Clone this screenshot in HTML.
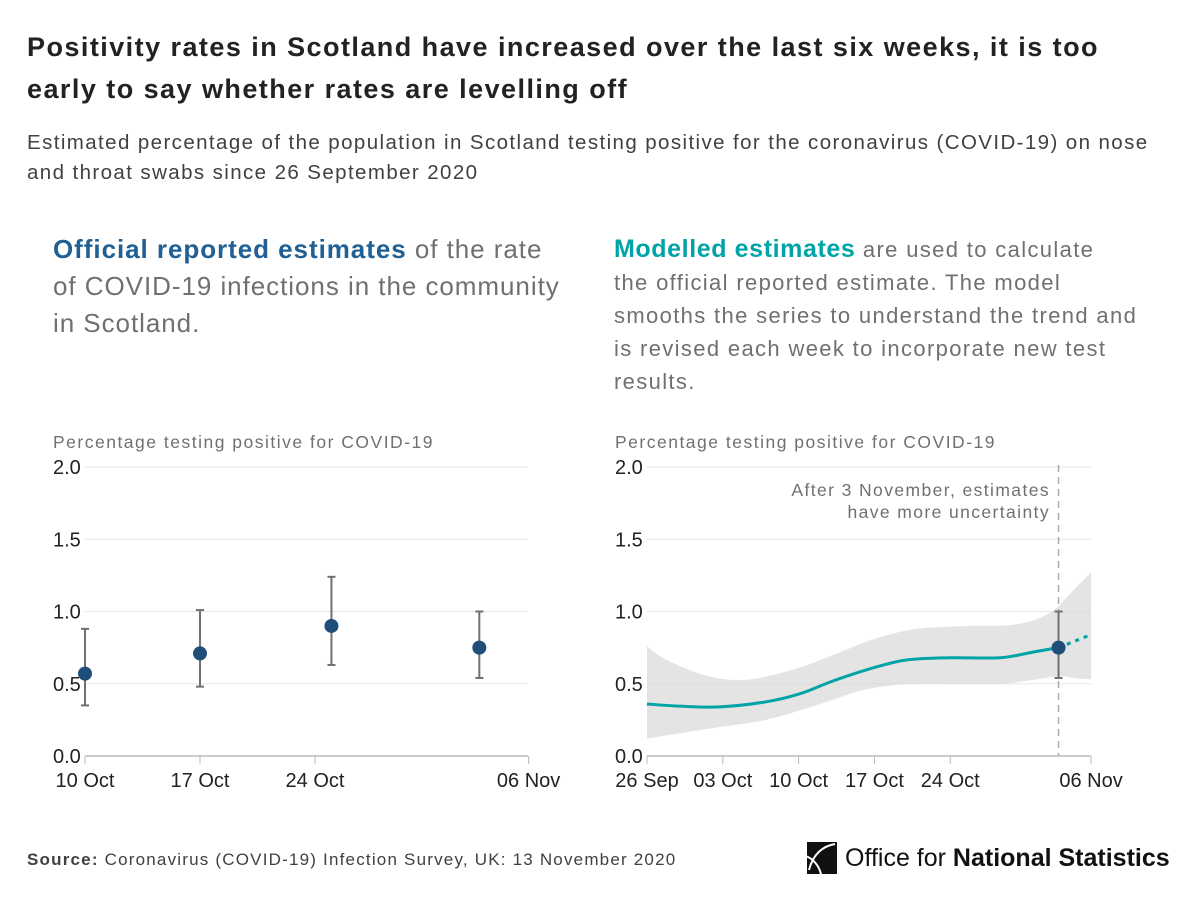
<!DOCTYPE html>
<html><head><meta charset="utf-8"><style>
body{margin:0;width:1200px;height:903px;background:#fff;font-family:"Liberation Sans",sans-serif;position:relative;overflow:hidden}
.t{position:absolute;margin:0;white-space:nowrap}
</style></head><body>
<h1 class="t" style="left:27px;top:26px;font-size:27px;line-height:42px;font-weight:bold;color:#222;letter-spacing:1.45px">Positivity rates in Scotland have increased over the last six weeks, it is too<br>early to say whether rates are levelling off</h1>
<p class="t" style="left:27px;top:128px;font-size:20.5px;line-height:30px;color:#414042;letter-spacing:1.4px">Estimated percentage of the population in Scotland testing positive for the coronavirus (COVID-19) on nose<br>and throat swabs since 26 September 2020</p>
<p class="t" style="left:53px;top:231px;font-size:26px;line-height:37px;color:#707071;letter-spacing:0.95px"><b style="color:#206095">Official reported estimates</b> of the rate<br>of COVID-19 infections in the community<br>in Scotland.</p>
<p class="t" style="left:614px;top:233px;font-size:22px;line-height:33px;color:#707071;letter-spacing:1.35px"><b style="color:#00a3a6;font-size:25px;letter-spacing:0.6px">Modelled estimates</b> are used to calculate<br>the official reported estimate. The model<br>smooths the series to understand the trend and<br>is revised each week to incorporate new test<br>results.</p>
<svg id="svg" width="1200" height="903" style="position:absolute;left:0;top:0"></svg>
<p class="t" style="left:27px;top:850px;font-size:17px;color:#414042;letter-spacing:1.2px"><b>Source:</b> Coronavirus (COVID-19) Infection Survey, UK: 13 November 2020</p>
<div class="t" style="left:805px;top:841px;height:34px;display:flex;align-items:center">
<svg width="32" height="32"><path d="M2 0H32V32H2Z" fill="#111"/><path d="M30 2C18 4 8 12 4 28" stroke="#fff" stroke-width="2" fill="none"/><path d="M0 14C8 16 14 24 16 32" stroke="#fff" stroke-width="2" fill="none"/></svg>
<span style="font-size:25px;color:#111;margin-left:8px;letter-spacing:0px">Office for <b>National Statistics</b></span></div>
<script>
const leftDays=[0,7,15,24];
const leftVals=[0.57,0.71,0.90,0.75];
const leftLo=[0.35,0.48,0.63,0.54];
const leftHi=[0.88,1.01,1.24,1.00];
const leftTicks=["10 Oct","17 Oct","24 Oct","06 Nov"];
const leftTickDays=[0,7,14,27];
const yTicks=[0,0.5,1,1.5,2];
const rightTicks=["26 Sep","03 Oct","10 Oct","17 Oct","24 Oct","06 Nov"];
const rightTickDays=[0,7,14,21,28,41];
const lineDays=[0,3,6.7,11,14.1,17.2,20.9,24,28,32.6,35.7,38];
const lineVals=[0.36,0.345,0.34,0.375,0.43,0.52,0.61,0.665,0.68,0.68,0.72,0.75];
const dotDays=[38,41];
const dotVals=[0.75,0.84];
const upDays=[0,1.8,5.8,9.5,14,17.2,21.2,24.9,29.5,34,37.2,39.4,41];
const upVals=[0.76,0.665,0.55,0.53,0.61,0.70,0.815,0.88,0.90,0.91,0.99,1.15,1.27];
const loDays=[0,5.8,11,15.6,20.2,24.9,32.6,37.8,39.4,41];
const loVals=[0.12,0.19,0.25,0.35,0.46,0.50,0.50,0.55,0.54,0.53];
const rightPointDay=[38];const rightPointVal=[0.75];const rightLo=[0.54];const rightHi=[1.00];
const svg=document.getElementById('svg');const NS='http://www.w3.org/2000/svg';
function mk(t,a,p){const e=document.createElementNS(NS,t);for(const k in a)e.setAttribute(k,a[k]);(p||svg).appendChild(e);return e;}
const y=v=>756-v*144.5;
const xl=d=>85+d*16.43;
const xr=d=>647+d*10.83;
function smooth(xs,ys){let s='M'+xs[0]+','+ys[0];for(let i=1;i<xs.length;i++){const x0=xs[i-1],x1=xs[i];const p=(xs[i-2]!==undefined)?i-2:i-1,n=(xs[i+1]!==undefined)?i+1:i;const c1x=x0+(x1-xs[p])/6,c1y=ys[i-1]+(ys[i]-ys[p])/6,c2x=x1-(xs[n]-x0)/6,c2y=ys[i]-(ys[n]-ys[i-1])/6;s+=`C${c1x},${c1y} ${c2x},${c2y} ${x1},${ys[i]}`;}return s;}
function axes(x0,x1,xf,ticks,tdays,pref){
  const lab=mk('text',{x:x0-32,y:448,'font-size':17.5,fill:'#707071','letter-spacing':1.5});lab.textContent='Percentage testing positive for COVID-19';
  
  
  yTicks.forEach(v=>{const l=mk('line',{x1:x0,x2:x1,y1:y(v),y2:y(v),stroke:v==0?'#bbb':'#e6e6e6','stroke-width':v==0?1.5:1});
    
    
    const t=mk('text',{x:x0-32,y:y(v)+7,'font-size':20,fill:'#222'});t.textContent=v.toFixed(1);
    
    });
  ticks.forEach((s,i)=>{const xx=xf(tdays[i]);const tk=mk('line',{x1:xx,x2:xx,y1:756,y2:764,stroke:'#bbb'});
    
    
    const t=mk('text',{x:xx,y:787,'font-size':20,fill:'#222','text-anchor':'middle'});t.textContent=s;
    
    });
}
function errbar(x,v,lo,hi,pref){const g=mk('g',{});
  
  
  mk('line',{x1:x,x2:x,y1:y(lo),y2:y(hi),stroke:'#707071','stroke-width':2},g);
  mk('line',{x1:x-4,x2:x+4,y1:y(lo),y2:y(lo),stroke:'#707071','stroke-width':2},g);
  mk('line',{x1:x-4,x2:x+4,y1:y(hi),y2:y(hi),stroke:'#707071','stroke-width':2},g);
  mk('circle',{cx:x,cy:y(v),r:7,fill:'#1f4e79'},g);}
axes(85,528,xl,leftTicks,leftTickDays,'left');
leftDays.forEach((d,i)=>errbar(xl(d),leftVals[i],leftLo[i],leftHi[i],'left'));
axes(647,1091,xr,rightTicks,rightTickDays,'right');
const up=smooth(upDays.map(xr),upVals.map(y));
const loX=loDays.map(xr).reverse(),loY=loVals.map(y).reverse();
const lo=smooth(loX,loY).replace(/^M/,'L');
const band=mk('path',{d:up+lo+'Z',fill:'#d9d9d9','fill-opacity':0.7});


const ln=mk('path',{d:smooth(lineDays.map(xr),lineVals.map(y)),fill:'none',stroke:'#00a3a6','stroke-width':3});


const dl=mk('path',{d:smooth(dotDays.map(xr),dotVals.map(y)),fill:'none',stroke:'#00a3a6','stroke-width':3,'stroke-dasharray':'4 5'});


const vx=xr(rightPointDay[0]);
const vl=mk('line',{x1:vx,x2:vx,y1:465,y2:756,stroke:'#aaa','stroke-width':1.5,'stroke-dasharray':'7 5'});


errbar(vx,rightPointVal[0],rightLo[0],rightHi[0],'right');
['After 3 November, estimates','have more uncertainty'].forEach((s,i)=>{const t=mk('text',{x:1050,y:496+i*22,'font-size':17.5,fill:'#707071','text-anchor':'end','letter-spacing':1.4});t.textContent=s;
  
  });
</script>
</body></html>
